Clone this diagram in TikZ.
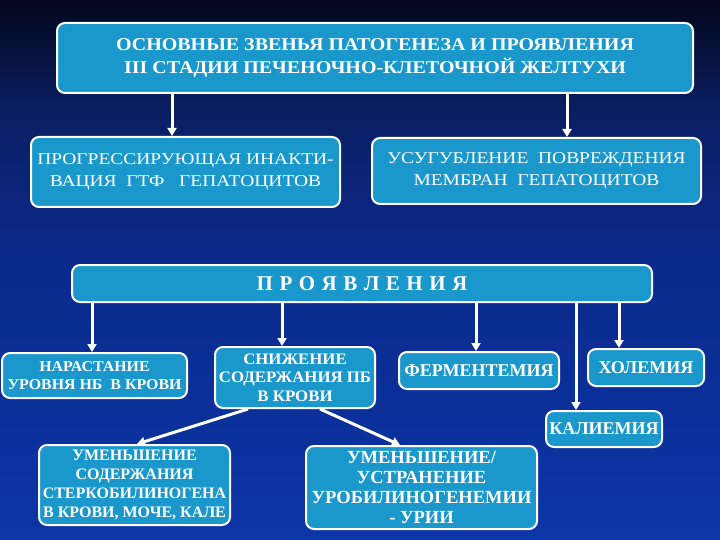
\documentclass[tikz,border=0pt]{standalone}
\usepackage{fontspec}
\setmainfont{Liberation Serif}
\usetikzlibrary{arrows.meta,calc}
\definecolor{boxblue}{HTML}{1A98CC}
\definecolor{bgtop}{HTML}{03071C}
\definecolor{bgupper}{HTML}{0A1E62}
\definecolor{bgmid}{HTML}{0A2A8C}
\definecolor{bgbot}{HTML}{0C35A6}
\newcommand\fsz[3]{\fontsize{#1}{#2}\selectfont\addfontfeature{FakeStretch=#3}}
\begin{document}
\begin{tikzpicture}[x=1pt,y=-1pt,
  box/.style={draw=white, line width=2pt, fill=boxblue, rounded corners=8pt,
    text=white, align=center, inner sep=0pt},
  arr/.style={draw=white, line width=3pt, -{Triangle[width=9pt,length=8pt]}},
]
\useasboundingbox (0,0) rectangle (720,540);
\begin{scope}[y=1pt]
\shade[top color=bgtop, bottom color=bgupper] (0,0) rectangle (720,-110);
\shade[top color=bgupper, bottom color=bgmid] (0,-109.5) rectangle (720,-260);
\shade[top color=bgmid, bottom color=bgbot] (0,-259.5) rectangle (720,-540);
\end{scope}

\node[box, minimum width=636pt, minimum height=70pt, font=\bfseries\fsz{18}{23.5}{1.11}] (top) at (375,58)
  {ОСНОВНЫЕ ЗВЕНЬЯ ПАТОГЕНЕЗА И ПРОЯВЛЕНИЯ\\III СТАДИИ ПЕЧЕНОЧНО-КЛЕТОЧНОЙ ЖЕЛТУХИ};
\node[box, minimum width=309pt, minimum height=70pt, font=\fsz{16.5}{21.5}{1.18}] (inak) at (185.5,172)
  {ПРОГРЕССИРУЮЩАЯ ИНАКТИ-\\ВАЦИЯ \ ГТФ \ \ ГЕПАТОЦИТОВ};
\node[box, minimum width=329pt, minimum height=66pt, font=\fsz{16.5}{21.5}{1.18}] (usug) at (536.5,171)
  {УСУГУБЛЕНИЕ \ ПОВРЕЖДЕНИЯ\\МЕМБРАН \ ГЕПАТОЦИТОВ};
\node[box, minimum width=580pt, minimum height=37pt, font=\bfseries\fsz{21}{22}{1}] (proy) at (362,283.5)
  {\spaceskip=6.5pt П Р О Я В Л Е Н И Я};

\node[box, minimum width=185pt, minimum height=45pt, font=\bfseries\fsz{15}{18}{1.06}] (nar) at (94.5,375.5)
  {НАРАСТАНИЕ\\УРОВНЯ НБ \ В КРОВИ};
\node[box, minimum width=160pt, minimum height=61pt, font=\bfseries\fsz{16}{18.5}{1.05}] (sni) at (295,377.5)
  {СНИЖЕНИЕ\\СОДЕРЖАНИЯ ПБ\\В КРОВИ};
\node[box, minimum width=160pt, minimum height=37pt, font=\bfseries\fsz{18}{18}{1}] (fer) at (479,370.5)
  {ФЕРМЕНТЕМИЯ};
\node[box, minimum width=116pt, minimum height=37pt, font=\bfseries\fsz{18}{18}{1}] (hol) at (646,367.5)
  {ХОЛЕМИЯ};
\node[box, minimum width=116pt, minimum height=36pt, font=\bfseries\fsz{18}{18}{1}] (kal) at (604,429)
  {КАЛИЕМИЯ};
\node[box, minimum width=191pt, minimum height=80pt, font=\bfseries\fsz{16}{19}{1}] (ste) at (134.5,485)
  {УМЕНЬШЕНИЕ\\СОДЕРЖАНИЯ\\СТЕРКОБИЛИНОГЕНА\\В КРОВИ, МОЧЕ, КАЛЕ};
\node[box, minimum width=231pt, minimum height=83pt, font=\bfseries\fsz{18.5}{20}{1}] (uro) at (421.5,487.5)
  {УМЕНЬШЕНИЕ/\\УСТРАНЕНИЕ\\УРОБИЛИНОГЕНЕМИИ\\- УРИИ};

\coordinate (c1) at (172,0);
\coordinate (c2) at (567,0);
\coordinate (d1) at (92,0);
\coordinate (d2) at (282,0);
\coordinate (d3) at (476,0);
\coordinate (d4) at (576,0);
\coordinate (d5) at (619,0);
\draw[arr] (top.south -| c1) -- (inak.north -| c1);
\draw[arr] (top.south -| c2) -- (usug.north -| c2);
\draw[arr] (proy.south -| d1) -- (nar.north -| d1);
\draw[arr] (proy.south -| d2) -- (sni.north -| d2);
\draw[arr] (proy.south -| d3) -- (fer.north -| d3);
\draw[arr] (proy.south -| d4) -- (kal.north -| d4);
\draw[arr] (proy.south -| d5) -- (hol.north -| d5);
\draw[arr] ($(sni.south)+(-47,0)$) -- ($(ste.north)+(2.5,0)$);
\draw[arr] ($(sni.south)+(25,0)$) -- ($(uro.north)+(-21.5,0)$);
\end{tikzpicture}
\end{document}
